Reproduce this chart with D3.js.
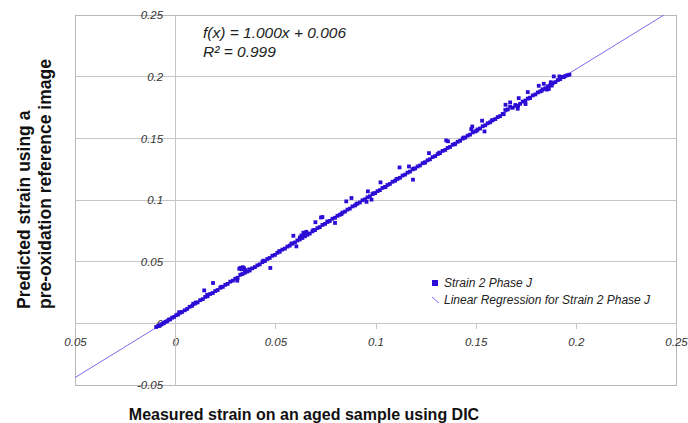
<!DOCTYPE html>
<html>
<head>
<meta charset="utf-8">
<script src="https://cdn.jsdelivr.net/npm/d3@7"></script>
<style>
  body { margin: 0; background: #fff; }
  svg text { font-family: "Liberation Sans", Arial, sans-serif; }
</style>
</head>
<body>
<svg width="688" height="423"></svg>
<script>
// measured strain (x) vs predicted strain (y)
var measured = [
  -0.0095, -0.0085, -0.0078, -0.0070, -0.0062, -0.0055, -0.0048, -0.0040, -0.0032, -0.0025,
  -0.0015, -0.0005, 0.0005, 0.0015, 0.0025, 0.0035, 0.0048, 0.0060, 0.0072, 0.0085,
  0.0098, 0.0103, 0.0112, 0.0125, 0.0138, 0.0145, 0.0150, 0.0162, 0.0175, 0.0189,
  0.0188, 0.0200, 0.0212, 0.0225, 0.0238, 0.0250, 0.0262, 0.0275, 0.0288, 0.0300,
  0.0310, 0.0312, 0.0320, 0.0326, 0.0332, 0.0338, 0.0344, 0.0350, 0.0325, 0.0336,
  0.0348, 0.0360, 0.0372, 0.0385, 0.0398, 0.0410, 0.0422, 0.0435, 0.0448, 0.0460,
  0.0472, 0.0475, 0.0485, 0.0498, 0.0510, 0.0522, 0.0535, 0.0548, 0.0560, 0.0572,
  0.0585, 0.0590, 0.0598, 0.0605, 0.0610, 0.0622, 0.0630, 0.0640, 0.0648, 0.0655,
  0.0622, 0.0635, 0.0648, 0.0660, 0.0672, 0.0685, 0.0698, 0.0700, 0.0710, 0.0722,
  0.0728, 0.0735, 0.0735, 0.0748, 0.0760, 0.0772, 0.0785, 0.0798, 0.0798, 0.0810,
  0.0822, 0.0835, 0.0848, 0.0854, 0.0860, 0.0872, 0.0880, 0.0885, 0.0898, 0.0910,
  0.0922, 0.0935, 0.0948, 0.0955, 0.0962, 0.0960, 0.0972, 0.0980, 0.0985, 0.0998,
  0.1010, 0.1025, 0.1022, 0.1035, 0.1048, 0.1060, 0.1072, 0.1085, 0.1098, 0.1110,
  0.1120, 0.1122, 0.1135, 0.1148, 0.1160, 0.1167, 0.1172, 0.1185, 0.1187, 0.1198,
  0.1210, 0.1222, 0.1235, 0.1248, 0.1260, 0.1267, 0.1272, 0.1285, 0.1298, 0.1310,
  0.1322, 0.1335, 0.1348, 0.1353, 0.1362, 0.1360, 0.1372, 0.1385, 0.1398, 0.1410,
  0.1422, 0.1435, 0.1448, 0.1460, 0.1472, 0.1483, 0.1478, 0.1485, 0.1498, 0.1510,
  0.1522, 0.1532, 0.1544, 0.1535, 0.1548, 0.1560, 0.1572, 0.1585, 0.1598, 0.1610,
  0.1622, 0.1635, 0.1649, 0.1648, 0.1660, 0.1672, 0.1672, 0.1685, 0.1698, 0.1710,
  0.1712, 0.1715, 0.1722, 0.1735, 0.1749, 0.1748, 0.1760, 0.1760, 0.1772, 0.1785,
  0.1798, 0.1810, 0.1815, 0.1822, 0.1835, 0.1840, 0.1848, 0.1855, 0.1860, 0.1865,
  0.1872, 0.1875, 0.1885, 0.1890, 0.1898, 0.1910, 0.1918, 0.1922, 0.1935, 0.1948,
  0.1958, 0.1968,
  // second pass along the band, slightly off the line
  0.0020, 0.0090, 0.0160, 0.0230, 0.0370, 0.0440, 0.0520, 0.0580, 0.0690, 0.0760,
  0.0830, 0.0905, 0.0990, 0.1050, 0.1105, 0.1190, 0.1245, 0.1318, 0.1395, 0.1440,
  0.1505, 0.1580, 0.1640, 0.1700, 0.1770, 0.1830, 0.1862, 0.1880, 0.1940
];
var predicted = [
  -0.0030, -0.0022, -0.0018, -0.0008, -0.0003, 0.0004, 0.0012, 0.0018, 0.0030, 0.0032,
  0.0046, 0.0052, 0.0066, 0.0072, 0.0086, 0.0093, 0.0106, 0.0117, 0.0134, 0.0142,
  0.0160, 0.0168, 0.0170, 0.0188, 0.0196, 0.0267, 0.0214, 0.0220, 0.0238, 0.0327,
  0.0246, 0.0262, 0.0270, 0.0288, 0.0296, 0.0312, 0.0320, 0.0338, 0.0346, 0.0362,
  0.0346, 0.0370, 0.0442, 0.0450, 0.0438, 0.0455, 0.0446, 0.0432, 0.0394, 0.0400,
  0.0410, 0.0420, 0.0428, 0.0446, 0.0456, 0.0470, 0.0478, 0.0496, 0.0505, 0.0522,
  0.0530, 0.0449, 0.0548, 0.0555, 0.0572, 0.0580, 0.0598, 0.0606, 0.0622, 0.0630,
  0.0648, 0.0710, 0.0656, 0.0624, 0.0672, 0.0696, 0.0712, 0.0735, 0.0720, 0.0742,
  0.0680, 0.0692, 0.0706, 0.0718, 0.0728, 0.0746, 0.0756, 0.0820, 0.0772, 0.0780,
  0.0858, 0.0862, 0.0798, 0.0806, 0.0822, 0.0830, 0.0848, 0.0814, 0.0856, 0.0872,
  0.0880, 0.0898, 0.0906, 0.0989, 0.0922, 0.0930, 0.1016, 0.0948, 0.0956, 0.0972,
  0.0980, 0.0998, 0.1006, 0.0985, 0.1070, 0.1022, 0.1030, 0.1003, 0.1048, 0.1056,
  0.1072, 0.1143, 0.1080, 0.1098, 0.1106, 0.1122, 0.1130, 0.1148, 0.1156, 0.1172,
  0.1264, 0.1180, 0.1198, 0.1206, 0.1222, 0.1272, 0.1230, 0.1248, 0.1165, 0.1256,
  0.1272, 0.1280, 0.1298, 0.1306, 0.1322, 0.1380, 0.1330, 0.1348, 0.1356, 0.1372,
  0.1380, 0.1398, 0.1406, 0.1483, 0.1476, 0.1422, 0.1430, 0.1448, 0.1456, 0.1472,
  0.1480, 0.1498, 0.1506, 0.1522, 0.1530, 0.1596, 0.1575, 0.1548, 0.1556, 0.1572,
  0.1580, 0.1643, 0.1556, 0.1598, 0.1606, 0.1622, 0.1630, 0.1648, 0.1656, 0.1672,
  0.1680, 0.1698, 0.1772, 0.1730, 0.1735, 0.1791, 0.1755, 0.1748, 0.1770, 0.1740,
  0.1764, 0.1826, 0.1780, 0.1798, 0.1778, 0.1806, 0.1875, 0.1822, 0.1830, 0.1848,
  0.1856, 0.1872, 0.1926, 0.1880, 0.1898, 0.1942, 0.1906, 0.1895, 0.1922, 0.1900,
  0.1930, 0.1955, 0.1948, 0.2002, 0.1956, 0.1972, 0.2002, 0.1980, 0.1998, 0.2006,
  0.2012, 0.2016,
  0.0090, 0.0158, 0.0232, 0.0296, 0.0438, 0.0508, 0.0586, 0.0646, 0.0756, 0.0826,
  0.0886, 0.0968, 0.1054, 0.1106, 0.1170, 0.1254, 0.1302, 0.1384, 0.1452, 0.1506,
  0.1562, 0.1644, 0.1696, 0.1764, 0.1826, 0.1886, 0.1908, 0.1928, 0.1996
];
var regSlope = 1.000;
var regIntercept = 0.006;
var rSquared = 0.999;

var xTicks = [-0.05, 0, 0.05, 0.1, 0.15, 0.2, 0.25];
var xTickLabels = ["0.05", "0", "0.05", "0.1", "0.15", "0.2", "0.25"];
var yTicks = [-0.05, 0, 0.05, 0.1, 0.15, 0.2, 0.25];
var yTickLabels = ["-0.05", "0", "0.05", "0.1", "0.15", "0.2", "0.25"];

var seriesName = "Strain 2 Phase J";
var xTitle = "Measured strain on an aged sample using DIC";
var yTitle = ["Predicted strain using a", "pre-oxidation reference image"];

var svg = d3.select("svg");
var plotLeft = 75, plotRight = 676, plotTop = 15, plotBottom = 385;
var dotColor = "#2a0ed6", lineColor = "#7a6cf0", gridColor = "#c6c6c6";

var xScale = d3.scaleLinear().domain([-0.05, 0.25]).range([plotLeft, plotRight]);
var yScale = d3.scaleLinear().domain([-0.05, 0.25]).range([plotBottom, plotTop]);

// horizontal grid lines
svg.append("g").selectAll("line").data(yTicks).join("line")
    .attr("x1", plotLeft).attr("x2", plotRight)
    .attr("y1", d => yScale(d)).attr("y2", d => yScale(d))
    .attr("stroke", gridColor).attr("stroke-width", 1)
    .attr("shape-rendering", "crispEdges");

// plot border
svg.append("rect")
    .attr("x", plotLeft).attr("y", plotTop)
    .attr("width", plotRight - plotLeft).attr("height", plotBottom - plotTop)
    .attr("fill", "none").attr("stroke", "#b8b8b8")
    .attr("shape-rendering", "crispEdges");

// axes cross at zero
var xAxis = d3.axisBottom(xScale).tickValues(xTicks).tickSize(6)
    .tickFormat((d, i) => xTickLabels[i]);
var gx = svg.append("g").attr("transform", "translate(0," + yScale(0) + ")").call(xAxis);
gx.select(".domain").attr("stroke", gridColor).attr("shape-rendering", "crispEdges");
gx.selectAll(".tick line").attr("stroke", gridColor).attr("shape-rendering", "crispEdges");
gx.selectAll(".tick text").attr("y", 23).attr("dy", "0")
    .attr("font-size", "11.5px").attr("font-style", "italic").attr("fill", "#333")
    .attr("font-family", "Liberation Sans, Arial, sans-serif");

var yAxis = d3.axisLeft(yScale).tickValues(yTicks).tickSize(0)
    .tickFormat((d, i) => yTickLabels[i]);
var gy = svg.append("g").attr("transform", "translate(" + xScale(0) + ",0)").call(yAxis);
gy.select(".domain").attr("stroke", gridColor).attr("shape-rendering", "crispEdges");
gy.selectAll(".tick text").attr("x", -12)
    .attr("font-size", "11.5px").attr("font-style", "italic").attr("fill", "#333")
    .attr("font-family", "Liberation Sans, Arial, sans-serif");

// regression line, clipped to the plot
svg.append("clipPath").attr("id", "plotclip").append("rect")
    .attr("x", plotLeft).attr("y", plotTop)
    .attr("width", plotRight - plotLeft).attr("height", plotBottom - plotTop);
var regLine = d3.line().x(d => xScale(d)).y(d => yScale(regSlope * d + regIntercept));
svg.append("path")
    .datum(xScale.domain())
    .attr("d", regLine)
    .attr("clip-path", "url(#plotclip)")
    .attr("fill", "none").attr("stroke", lineColor).attr("stroke-width", 1);

// points
var s = 3.8;
svg.append("g").selectAll("rect").data(measured).join("rect")
    .attr("x", (d, i) => xScale(d) - s / 2)
    .attr("y", (d, i) => yScale(predicted[i]) - s / 2)
    .attr("width", s).attr("height", s)
    .attr("fill", dotColor);

// regression equation
var eq = svg.append("g").attr("font-size", "15.5px").attr("font-style", "italic").attr("fill", "#222");
eq.append("text").attr("x", 203).attr("y", 38)
    .text("f(x) = " + regSlope.toFixed(3) + "x + " + regIntercept.toFixed(3));
eq.append("text").attr("x", 203).attr("y", 57)
    .text("R² = " + rSquared.toFixed(3));

// legend
var lg = svg.append("g").attr("font-size", "12px").attr("font-style", "italic").attr("fill", "#222");
lg.append("rect").attr("x", 432).attr("y", 280).attr("width", 6).attr("height", 6).attr("fill", dotColor);
lg.append("text").attr("x", 444).attr("y", 287).text(seriesName);
lg.append("line").attr("x1", 432).attr("y1", 297).attr("x2", 439).attr("y2", 303)
    .attr("stroke", lineColor).attr("stroke-width", 1);
lg.append("text").attr("x", 444).attr("y", 304).text("Linear Regression for " + seriesName);

// axis titles
svg.append("text")
    .attr("x", 304).attr("y", 420)
    .attr("text-anchor", "middle")
    .attr("font-size", "16px").attr("font-weight", "bold").attr("fill", "#111")
    .text(xTitle);

svg.append("g").selectAll("text").data(yTitle).join("text")
    .attr("transform", (d, i) => "translate(" + (30 + i * 21) + ",309) rotate(-90)")
    .attr("font-size", "17.5px").attr("font-weight", "bold").attr("fill", "#111")
    .text(d => d);
</script>
</body>
</html>
